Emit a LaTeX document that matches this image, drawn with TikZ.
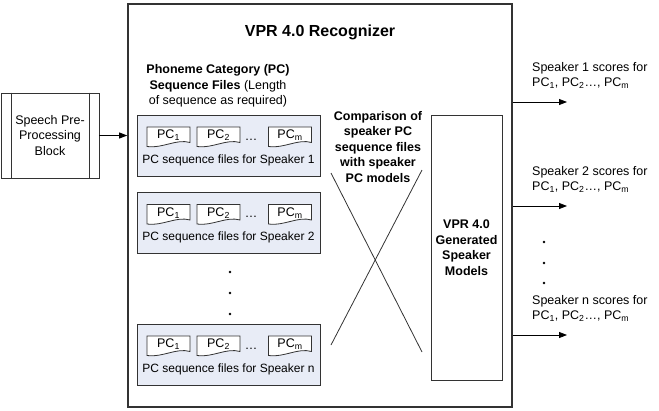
\documentclass[tikz,border=0pt]{standalone}
\usepackage{fontspec}
\setmainfont{Liberation Sans}
\usetikzlibrary{arrows.meta, positioning}
\definecolor{linegray}{RGB}{51,51,51}
\definecolor{grpfill}{RGB}{232,236,246}
\tikzset{
    block/.style={rectangle, draw=linegray, thick, text centered, align=center, inner sep=0pt},
    grpbox/.style={rectangle, draw=linegray, thick, fill=grpfill, minimum width=183pt, minimum height=61pt},
    docline/.style={draw=linegray, fill=white, thick},
    lbl/.style={font=\fontsize{12.5}{15.5}\selectfont, align=center, inner sep=0pt},
    boldlbl/.style={font=\bfseries\fontsize{12.5}{15.5}\selectfont, align=center, inner sep=0pt},
    dotmark/.style={circle, fill=black, inner sep=0pt, minimum size=2.6pt},
    arrow/.style={-{Triangle[length=8pt,width=6pt]}, thick},
    crossline/.style={draw=linegray, thick}
}

\begin{document}
\begin{tikzpicture}[x=1pt, y=-1pt]
    \useasboundingbox (0,0) rectangle (659,410);

    % Recognizer frame
    \node[block, line width=1.6pt, minimum width=384pt, minimum height=403pt] (recog) at (320,205.5) {};
    \node[font=\bfseries\fontsize{16}{19}\selectfont] (title) at (320,32) {VPR 4.0 Recognizer};

    % Input block
    \node[block, lbl, minimum width=98pt, minimum height=85pt] (speech) at (50,135.5) {Speech Pre-\\Processing\\Block};
    \draw[linegray, thick] ([xshift=11pt]speech.north west) -- ([xshift=11pt]speech.south west);
    \draw[linegray, thick] ([xshift=-10pt]speech.north east) -- ([xshift=-10pt]speech.south east);
    \draw[arrow] (speech.east) -- (speech.east -| recog.west);

    % PC sequence files
    \node[lbl] (hdr) at (218,86) {\textbf{Phoneme Category (PC)}\\\textbf{Sequence Files} (Length\\of sequence as required)};
    \foreach \sp/\gy in {1/145.5, 2/223, n/354.5} {
        \node[grpbox] (grp\sp) at (228.5,\gy) {};
        \node[lbl, font=\fontsize{12}{15}\selectfont] (cap\sp) at (228.5,\gy+14.5) {PC sequence files for Speaker \sp};
        \foreach \k/\dx/\dtxt in {a/168.5/PC\textsubscript{1}, b/218.5/PC\textsubscript{2}, m/290/PC\textsubscript{m}} {
            \draw[docline] (\dx-21.5,\gy-18.5) -- (\dx+21.5,\gy-18.5) -- (\dx+21.5,\gy-3)
                .. controls (\dx+8,\gy-7) and (\dx-5,\gy+3) .. (\dx-21.5,\gy+1) -- cycle;
            \node[lbl] (doc\sp\k) at (\dx,\gy-10) {\dtxt};
        }
        \node[lbl] (dots\sp) at (251,\gy-6) {\ldots};
    }
    \foreach \i/\vy in {1/272, 2/293, 3/314}
        \node[dotmark] (vdot\i) at (230,\vy) {};

    % Comparison
    \coordinate (cmpA) at (331,173);
    \coordinate (cmpB) at (422,352);
    \coordinate (cmpC) at (422,170);
    \coordinate (cmpD) at (331,345);
    \draw[crossline] (cmpA) -- (cmpB);
    \draw[crossline] (cmpC) -- (cmpD);
    \node[boldlbl] (cmp) at (378,147) {Comparison of\\speaker PC\\sequence files\\with speaker\\PC models};

    % Speaker models
    \node[block, boldlbl, draw=linegray, minimum width=71pt, minimum height=265pt] (models) at (466.5,247.5) {VPR 4.0\\Generated\\Speaker\\Models};

    % Scores
    \foreach \sp/\oy in {1/102, 2/206, n/335} {
        \coordinate (out\sp) at (567,\oy);
        \draw[arrow] (recog.east |- out\sp) -- (out\sp);
        \node[lbl, align=left, anchor=south west] (score\sp) at (532,\oy-13) {Speaker \sp\ scores for\\PC\textsubscript{1}, PC\textsubscript{2}\ldots, PC\textsubscript{m}};
    }
    \foreach \i/\vy in {1/242, 2/263, 3/283}
        \node[dotmark] (sdot\i) at (544,\vy) {};
\end{tikzpicture}
\end{document}
